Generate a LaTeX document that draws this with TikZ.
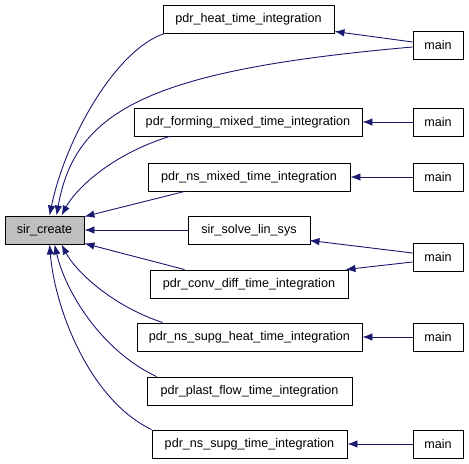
\documentclass[tikz,border=0pt]{standalone}
\usepackage{fontspec}
\setmainfont{Liberation Sans}
\usetikzlibrary{arrows.meta}
\definecolor{edgeblue}{RGB}{25,25,112}
\definecolor{hlgray}{RGB}{191,191,191}
\tikzset{
  fbox/.style={draw=black, line width=0.9bp, fill=white, inner sep=0pt, minimum height=28bp, font=\fontsize{12.6bp}{15bp}\selectfont},
  hl/.style={fbox, fill=hlgray},
  callarrow/.style={draw=edgeblue, line width=0.9bp, -{Latex[length=10bp,width=7.5bp]}}
}
\begin{document}
\begin{tikzpicture}[x=1bp,y=-1bp]
\useasboundingbox (0,0) rectangle (469,464);
\node[hl, minimum width=79bp] (sir) at (44.5,230) {sir\_create};
\node[fbox, minimum width=171bp] (heat) at (248.5,19) {pdr\_heat\_time\_integration};
\node[fbox, minimum width=50bp] (m1) at (438,45) {main};
\node[fbox, minimum width=228bp] (form) at (248,122) {pdr\_forming\_mixed\_time\_integration};
\node[fbox, minimum width=50bp] (m2) at (438,122) {main};
\node[fbox, minimum width=202bp] (nsm) at (249,177) {pdr\_ns\_mixed\_time\_integration};
\node[fbox, minimum width=50bp] (m3) at (438,177) {main};
\node[fbox, minimum width=122bp] (solve) at (249,230) {sir\_solve\_lin\_sys};
\node[fbox, minimum width=50bp] (m4) at (438,257) {main};
\node[fbox, minimum width=198bp] (conv) at (249,284) {pdr\_conv\_diff\_time\_integration};
\node[fbox, minimum width=225bp] (sgh) at (249.5,337) {pdr\_ns\_supg\_heat\_time\_integration};
\node[fbox, minimum width=50bp] (m5) at (438,337) {main};
\node[fbox, minimum width=205bp] (plast) at (249.5,391) {pdr\_plast\_flow\_time\_integration};
\node[fbox, minimum width=195bp] (supg) at (249.5,444) {pdr\_ns\_supg\_time\_integration};
\node[fbox, minimum width=50bp] (m6) at (438,444) {main};

% edges into sir_create
\draw[callarrow] ([xshift=2bp]heat.south west) .. controls (115,50) and (65,140) .. ([xshift=45bp]sir.north west);
\draw[callarrow] ([yshift=-2bp]m1.west) .. controls (150,70) and (75,110) .. ([xshift=52bp]sir.north west);
\draw[callarrow] ([xshift=36bp]form.south west) .. controls (110,155) and (75,190) .. ([xshift=57bp]sir.north west);
\draw[callarrow] ([xshift=37bp]nsm.south west) -- ([yshift=-1bp]sir.north east);
\draw[callarrow] (solve.west) -- (sir.east);
\draw[callarrow] ([xshift=35bp]conv.north west) -- ([yshift=1bp]sir.south east);
\draw[callarrow] ([xshift=26bp]sgh.north west) .. controls (110,305) and (75,270) .. ([xshift=57bp]sir.south west);
\draw[callarrow] ([xshift=10bp]plast.north west) .. controls (100,350) and (65,290) .. ([xshift=50bp]sir.south west);
\draw[callarrow] (supg.north west) .. controls (90,400) and (55,310) .. ([xshift=45bp]sir.south west);

% edges from main
\draw[callarrow] ([yshift=3bp]m1.west) -- ([yshift=2bp]heat.south east);
\draw[callarrow] (m2.west) -- (form.east);
\draw[callarrow] (m3.west) -- (nsm.east);
\draw[callarrow] ([yshift=4bp]m4.west) -- ([xshift=-1bp,yshift=4bp]solve.south east);
\draw[callarrow] ([yshift=-5bp]m4.west) -- ([xshift=-3bp]conv.north east);
\draw[callarrow] (m5.west) -- (sgh.east);
\draw[callarrow] (m6.west) -- (supg.east);
\end{tikzpicture}
\end{document}
